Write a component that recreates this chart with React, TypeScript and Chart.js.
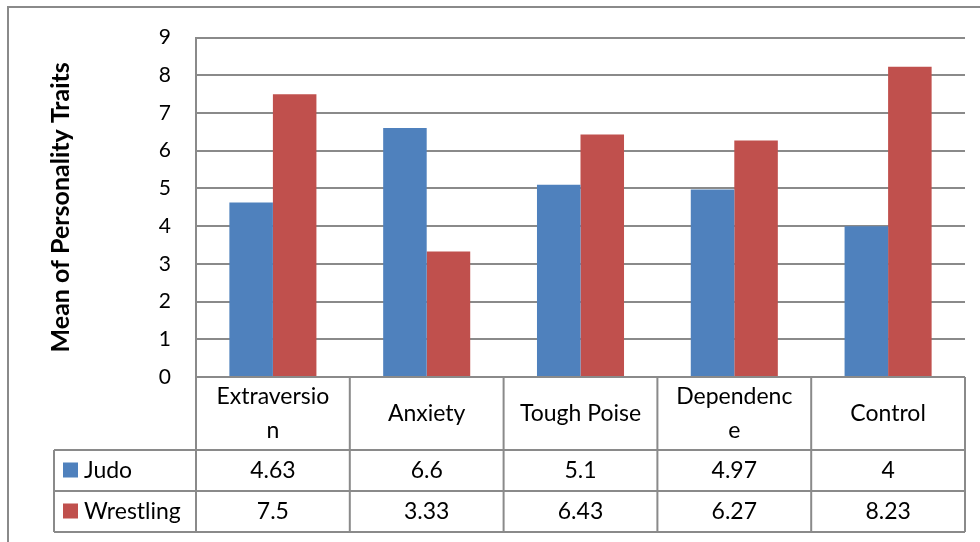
import React, { useEffect, useRef } from "react";
import { Chart, registerables } from "chart.js";

Chart.register(...registerables);

const categories = ["Extraversion", "Anxiety", "Tough Poise", "Dependence", "Control"];
const headerLines = [["Extraversio", "n"], ["Anxiety"], ["Tough Poise"], ["Dependenc", "e"], ["Control"]];
const judo = [4.63, 6.6, 5.1, 4.97, 4];
const wrestling = [7.5, 3.33, 6.43, 6.27, 8.23];
const seriesNames = ["Judo", "Wrestling"];
const seriesColors = ["#4F81BD", "#C0504D"];
const yTitle = "Mean of Personality Traits";

const FONT = "Lato, 'Open Sans', sans-serif";
const LINE = "#8a8a8a";
const TEXT_SIZE = 23;

const tablePlugin = {
  id: "dataTable",
  beforeDraw(chart: any) {
    const ctx = chart.ctx;
    ctx.save();
    ctx.fillStyle = "#ffffff";
    ctx.fillRect(0, 0, chart.width, chart.height);
    ctx.strokeStyle = LINE;
    ctx.lineWidth = 2;
    ctx.beginPath();
    ctx.moveTo(8, chart.height);
    ctx.lineTo(8, 7);
    ctx.lineTo(chart.width, 7);
    ctx.stroke();
    ctx.restore();
  },
  afterDraw(chart: any) {
    const ctx = chart.ctx;
    const x = chart.scales.x;
    const area = chart.chartArea;
    const n = categories.length;
    const left = area.left;
    const right = area.right;
    const cw = (right - left) / n;
    const top = area.bottom;
    const headBottom = top + 73;
    const row1 = headBottom + 41;
    const row2 = row1 + 41;
    const legendLeft = 54;
    ctx.save();
    ctx.strokeStyle = LINE;
    ctx.lineWidth = 2;
    ctx.beginPath();
    ctx.moveTo(legendLeft, headBottom); ctx.lineTo(right, headBottom);
    ctx.moveTo(legendLeft, row1); ctx.lineTo(right, row1);
    ctx.moveTo(legendLeft, row2); ctx.lineTo(right, row2);
    ctx.moveTo(legendLeft, headBottom); ctx.lineTo(legendLeft, row2);
    for (let i = 0; i <= n; i++) {
      const xx = left + i * cw;
      ctx.moveTo(xx, top); ctx.lineTo(xx, row2);
    }
    ctx.stroke();

    ctx.fillStyle = "#000";
    ctx.font = TEXT_SIZE + "px " + FONT;
    ctx.textAlign = "center";
    ctx.textBaseline = "middle";
    const headMid = (top + headBottom) / 2;
    for (let i = 0; i < n; i++) {
      const cx = x.getPixelForValue(i);
      const lines = headerLines[i];
      const lh = 34;
      const y0 = headMid - ((lines.length - 1) * lh) / 2;
      lines.forEach((t, j) => ctx.fillText(t, cx, y0 + j * lh));
    }
    const rows = [judo, wrestling];
    const mids = [(headBottom + row1) / 2, (row1 + row2) / 2];
    rows.forEach((vals, r) => {
      ctx.fillStyle = "#000";
      ctx.textAlign = "center";
      vals.forEach((v, i) => {
        ctx.fillText(String(v), x.getPixelForValue(i), mids[r]);
      });
      ctx.fillStyle = seriesColors[r];
      ctx.fillRect(63, mids[r] - 8, 15, 15);
      ctx.fillStyle = "#000";
      ctx.textAlign = "left";
      ctx.fillText(seriesNames[r], 84, mids[r]);
    });
    ctx.restore();
  },
};

export default function App() {
  const ref = useRef<HTMLCanvasElement>(null);
  useEffect(() => {
    const chart = new Chart(ref.current!, {
      type: "bar",
      data: {
        labels: categories,
        datasets: [
          { label: seriesNames[0], data: judo, backgroundColor: seriesColors[0] },
          { label: seriesNames[1], data: wrestling, backgroundColor: seriesColors[1] },
        ],
      },
      plugins: [tablePlugin],
      options: {
        responsive: true,
        maintainAspectRatio: false,
        animation: false,
        layout: { padding: { left: 0, top: 36, right: 15, bottom: 165 } },
        datasets: { bar: { categoryPercentage: 0.566, barPercentage: 1 } },
        plugins: { legend: { display: false }, tooltip: { enabled: false } },
        scales: {
          x: {
            display: false,
          },
          y: {
            min: 0,
            max: 9,
            afterFit: (s: any) => { s.width = 196; },
            ticks: { stepSize: 1, padding: 25, color: "#000", font: { family: FONT, size: 21 } },
            grid: { color: LINE, lineWidth: 2, drawTicks: false },
            border: { display: true, color: LINE, width: 2 },
            title: {
              display: true,
              text: yTitle,
              color: "#000",
              font: { family: FONT, size: 25, weight: "bold" },
              padding: { top: 46, bottom: 0 },
            },
          },
        },
      },
    });
    return () => chart.destroy();
  }, []);
  return (
    <div style={{ position: "fixed", left: 0, top: 0, width: 980, height: 542, background: "#fff" }}>
      <canvas ref={ref} />
    </div>
  );
}
